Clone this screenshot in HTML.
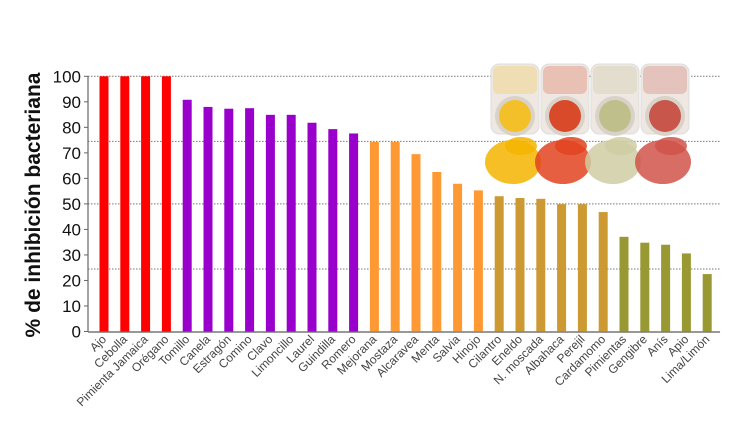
<!DOCTYPE html>
<html><head><meta charset="utf-8"><style>
body{margin:0;background:#fff;width:754px;height:432px;overflow:hidden}
svg{display:block;font-family:"Liberation Sans",sans-serif}
</style></head><body>
<svg id="chart" width="754" height="432"></svg>
<script>
const categories=["Ajo","Cebolla","Pimienta Jamaica","Orégano","Tomillo","Canela","Estragón","Comino","Clavo","Limoncillo","Laurel","Guindilla","Romero","Mejorana","Mostaza","Alcaravea","Menta","Salvia","Hinojo","Cilantro","Eneldo","N. moscada","Albahaca","Perejil","Cardamomo","Pimientas","Gengibre","Anís","Apio","Lima/Limón"];
const values=[100,100,100,100,90.8,88,87.3,87.5,84.9,84.9,81.8,79.3,77.6,74.3,74.3,69.5,62.5,57.9,55.3,53,52.3,52,49.9,49.9,46.8,37.1,34.8,34,30.6,22.5];
const groups=[0,0,0,0,1,1,1,1,1,1,1,1,1,2,2,2,2,2,2,3,3,3,3,3,3,4,4,4,4,4];
const groupColors=["#ff0000","#9900cc","#ff9933","#cc9933","#999933"];
const yTicks=[0,10,20,30,40,50,60,70,80,90,100];
const gridValues=[100,74.5,50,24.5];

const NS="http://www.w3.org/2000/svg";
const svg=document.getElementById('chart');
const y0=331.5,y100=76.3;
const y=v=>y0-(y0-y100)*v/100;
const x=i=>104+i*20.8;
function mk(t,a,p){const e=document.createElementNS(NS,t);for(const k in a)e.setAttribute(k,a[k]);(p||svg).appendChild(e);return e;}

gridValues.forEach(g=>{
  const l=mk('line',{x1:88,x2:720,y1:y(g),y2:y(g),stroke:'#777','stroke-dasharray':'1.5,1.5','stroke-width':1});
  
  
});

const img=mk('g',{});


const jars=[[515,'#f4c02a','#f5b400'],[565,'#d94a2a','#e2431f'],[615,'#bfbf8c','#cfcca3'],[665,'#c8564a','#d0544a']];
jars.forEach(([cx,c1,c2])=>{
  mk('rect',{x:cx-24,y:64,width:48,height:70,rx:8,fill:'#eee7e2',stroke:'#ddd'},img);
  mk('rect',{x:cx-22,y:66,width:44,height:28,rx:6,fill:c1,opacity:0.25},img);
  mk('circle',{cx:cx,cy:116,r:20,fill:'#d8d2c8'},img);
  mk('circle',{cx:cx,cy:116,r:16,fill:c1},img);
  mk('ellipse',{cx:cx-2,cy:162,rx:28,ry:22,fill:c2,opacity:0.85},img);
  mk('ellipse',{cx:cx+6,cy:146,rx:16,ry:9,fill:c2,opacity:0.85},img);
});

const ax=mk('g',{});


mk('line',{x1:88,x2:88,y1:76,y2:332,stroke:'#666','stroke-width':1.2},ax);
yTicks.forEach(t=>{
  mk('line',{x1:84,x2:88,y1:y(t),y2:y(t),stroke:'#666'},ax);
  const tx=mk('text',{x:81,y:y(t)+6,'text-anchor':'end','font-size':17,fill:'#111'},ax);
  tx.textContent=t;
  
  
});
const xa=mk('line',{x1:88,x2:720,y1:332,y2:332,stroke:'#777','stroke-width':1.5});



values.forEach((v,i)=>{
  const b=mk('rect',{x:x(i)-4.5,y:y(v),width:9,height:y0-y(v),fill:groupColors[groups[i]]});
  
  
  const t=mk('text',{x:x(i)+3,y:340,'text-anchor':'end','font-size':12,fill:'#444',transform:`rotate(-45 ${x(i)+3} 340)`});
  t.textContent=categories[i];
  
  
});

const title=mk('text',{x:0,y:0,'text-anchor':'middle','font-size':21,'font-weight':'bold',fill:'#111',transform:'translate(40 205) rotate(-90)'});
title.textContent='% de inhibición bacteriana';


</script>
</body></html>
